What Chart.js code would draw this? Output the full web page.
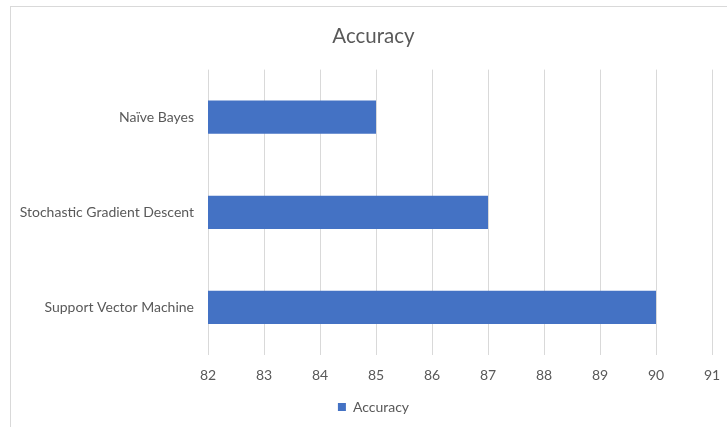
<!DOCTYPE html>
<html>
<head>
<meta charset="utf-8">
<script src="https://cdn.jsdelivr.net/npm/chart.js@4"></script>
<style>
  html, body { margin: 0; padding: 0; background: #ffffff; }
  #wrap { position: relative; width: 727px; height: 427px; overflow: hidden; }
  #frame { position: absolute; left: 10px; top: 6px; width: 800px; height: 500px;
           border-top: 1px solid #d9d9d9; border-left: 1px solid #d9d9d9; }
  canvas { position: absolute; left: 0; top: 0; }
</style>
</head>
<body>
<div id="wrap">
  <div id="frame"></div>
  <canvas id="c" width="727" height="427"></canvas>
</div>
<script>
const categories = ["Naïve Bayes", "Stochastic Gradient Descent", "Support Vector Machine"];
const accuracy = [85, 87, 90];
const seriesName = "Accuracy";
const chartTitle = "Accuracy";
const xMin = 82, xMax = 91, xStep = 1;

const FONT = "Lato, 'Open Sans', sans-serif";
const TEXT = "#595959";

new Chart(document.getElementById('c'), {
  type: 'bar',
  data: {
    labels: categories,
    datasets: [{
      label: seriesName,
      data: accuracy,
      backgroundColor: '#4472C4',
      borderWidth: 0,
      categoryPercentage: 1.0,
      barPercentage: 0.35
    }]
  },
  options: {
    indexAxis: 'y',
    responsive: false,
    animation: false,
    devicePixelRatio: 1,
    layout: { padding: { left: 20, right: 0, top: 0, bottom: 3 } },
    plugins: {
      title: {
        display: true,
        text: chartTitle,
        color: TEXT,
        font: { family: FONT, size: 20.5, weight: 'normal' },
        padding: { top: 24, bottom: 21 }
      },
      legend: {
        display: true,
        position: 'bottom',
        labels: {
          color: TEXT,
          font: { family: FONT, size: 14 },
          boxWidth: 8,
          boxHeight: 8,
          padding: 11
        }
      },
      tooltip: { enabled: false }
    },
    scales: {
      x: {
        min: xMin,
        max: xMax,
        ticks: { stepSize: xStep, color: TEXT, font: { family: FONT, size: 14 }, padding: 12 },
        grid: { color: '#d9d9d9', lineWidth: 1, drawTicks: false },
        border: { display: false },
        afterFit: (s) => { s.height = 34; s.paddingRight = 15; s.paddingLeft = 0; }
      },
      y: {
        ticks: { color: TEXT, font: { family: FONT, size: 14 }, padding: 14 },
        grid: { display: false, drawTicks: false },
        border: { display: false },
        afterFit: (s) => { s.width = 188; }
      }
    }
  }
});
</script>
</body>
</html>
